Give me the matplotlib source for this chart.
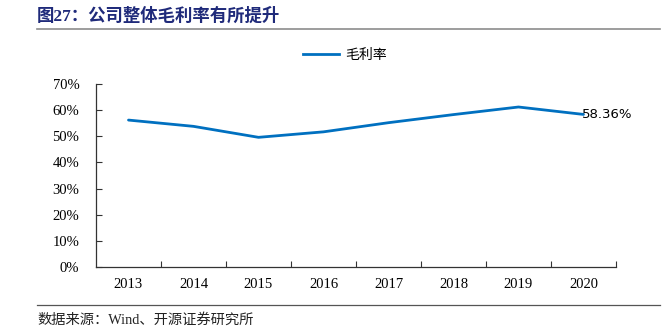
import matplotlib
matplotlib.use("Agg")
import matplotlib.pyplot as plt
from matplotlib.lines import Line2D
from matplotlib.ticker import FixedLocator, PercentFormatter

years = ["2013", "2014", "2015", "2016", "2017", "2018", "2019", "2020"]
gross_margin = [56.2, 53.8, 49.6, 51.7, 55.2, 58.3, 61.2, 58.36]
y_ticks = [0, 10, 20, 30, 40, 50, 60, 70]

title_text = "图27：公司整体毛利率有所提升"
series_name = "毛利率"
source_text = "数据来源：Wind、开源证券研究所"

serif_cjk = ["Liberation Serif", "Noto Sans CJK SC"]
line_color = "#0070C0"

fig = plt.figure(figsize=(6.67, 3.34), dpi=100)
ax = fig.add_axes([96 / 667, 1 - 267 / 334, 520 / 667, 183 / 334])

x = list(range(len(years)))
ax.plot(x, gross_margin, color=line_color, linewidth=2.0, solid_capstyle="round")
ax.text(x[-1] - 0.02, gross_margin[-1], f"{gross_margin[-1]:.2f}%", fontsize=9.5,
        family=["DejaVu Sans"], ha="left", va="center", color="black")

ax.set_xlim(-0.5, len(years) - 0.5)
ax.set_ylim(0, 70)
ax.yaxis.set_major_locator(FixedLocator(y_ticks))
ax.yaxis.set_major_formatter(PercentFormatter(decimals=0))
ax.set_xticks(x)
ax.set_xticklabels(years)
ax.xaxis.set_minor_locator(FixedLocator([i + 0.5 for i in range(len(years))]))
ax.tick_params(axis="x", which="major", length=0, pad=8)
ax.tick_params(axis="x", which="minor", direction="in", length=4, width=0.8, color="#333333")
ax.tick_params(axis="y", direction="in", length=4, width=0.8, color="#333333", pad=12)
for lbl in ax.get_xticklabels() + ax.get_yticklabels():
    lbl.set_family(["Liberation Serif"])
    lbl.set_fontsize(10.5)
for side in ("top", "right"):
    ax.spines[side].set_visible(False)
for side in ("left", "bottom"):
    ax.spines[side].set_color("#333333")
    ax.spines[side].set_linewidth(0.9)

handle = Line2D([], [], color=line_color, linewidth=2.0)
leg = fig.legend([handle], [series_name], loc="center", bbox_to_anchor=(345 / 667, 1 - 55 / 334),
                 frameon=False, handlelength=2.6, handletextpad=0.4,
                 prop={"family": serif_cjk, "size": 10})

fig.text(37 / 667, 1 - 16 / 334, title_text, fontsize=12.5, fontweight="bold",
         color="#1F2A7A", family=serif_cjk, ha="left", va="center")
fig.add_artist(Line2D([37 / 667, 660 / 667], [1 - 29 / 334, 1 - 29 / 334],
                      color="#8C8C8C", linewidth=1.2))
fig.add_artist(Line2D([37 / 667, 660 / 667], [1 - 305 / 334, 1 - 305 / 334],
                      color="#555555", linewidth=0.9))
fig.text(37 / 667, 1 - 320 / 334, source_text, fontsize=10.3, color="#222222",
         family=serif_cjk, ha="left", va="center")

fig.savefig("out.png", dpi=100)
